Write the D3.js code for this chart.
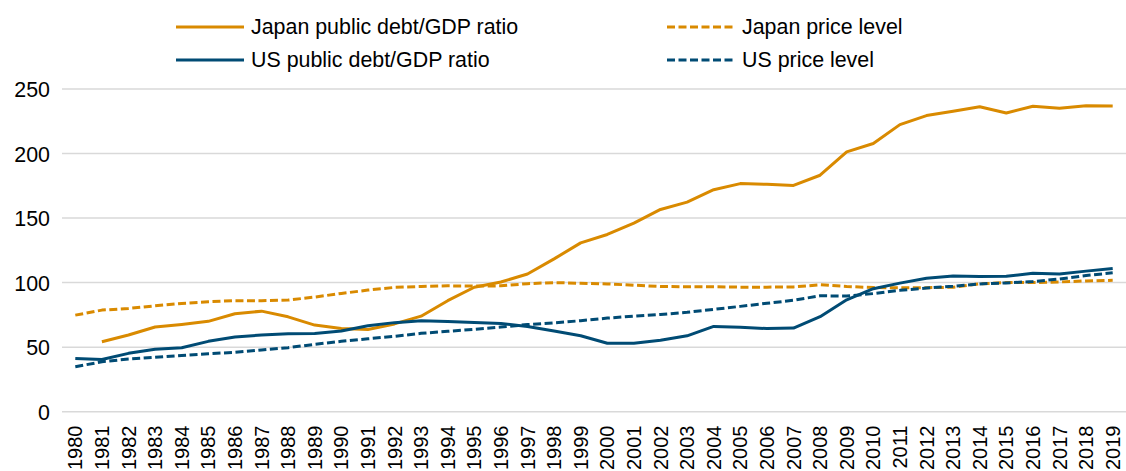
<!DOCTYPE html>
<html>
<head>
<meta charset="utf-8">
<script src="https://cdn.jsdelivr.net/npm/d3@7"></script>
<style>
  html, body { margin: 0; padding: 0; background: #fff; }
  svg { display: block; }
  text { font-family: "Liberation Sans", Arial, sans-serif; fill: #000; }
</style>
</head>
<body>
<svg id="chart" width="1126" height="471"></svg>
<script>
const years = d3.range(1980, 2020);
const yTicks = [0, 50, 100, 150, 200, 250];

const japanDebt = [null, 54.2, 59.4, 65.6, 67.6, 70.0, 75.9, 77.9, 73.5, 67.1,
  64.5, 63.7, 68.0, 74.0, 86.0, 96.4, 100.5, 106.7, 118.4, 130.8,
  137.3, 146.1, 156.7, 162.4, 172.0, 176.7, 176.2, 175.3, 183.2, 201.3,
  207.8, 222.4, 229.4, 232.7, 236.3, 231.4, 236.6, 235.0, 237.1, 236.8];

const japanPrice = [74.8, 78.7, 80.0, 82.0, 83.9, 85.2, 86.0, 86.0, 86.5, 88.8,
  91.6, 94.2, 96.3, 97.0, 97.5, 97.3, 97.5, 99.2, 100.0, 99.5,
  99.0, 98.0, 97.0, 96.8, 96.8, 96.5, 96.5, 96.7, 98.3, 97.0,
  96.2, 96.0, 96.1, 96.4, 99.0, 100.0, 100.0, 100.5, 101.3, 101.8];

const usDebt = [41.3, 40.5, 45.2, 48.3, 49.6, 54.5, 57.8, 59.4, 60.4, 60.6,
  62.5, 66.6, 69.0, 70.4, 69.8, 69.1, 68.4, 66.0, 62.5, 58.8,
  53.0, 53.0, 55.4, 58.8, 66.1, 65.5, 64.4, 64.8, 73.6, 86.7,
  95.3, 99.6, 103.4, 105.1, 104.7, 104.9, 107.3, 106.6, 108.9, 111.0];

const usPrice = [34.8, 38.7, 40.8, 42.1, 43.6, 44.9, 46.0, 47.8, 49.6, 52.2,
  54.5, 56.5, 58.4, 60.7, 62.3, 63.8, 65.6, 67.5, 68.8, 70.5,
  72.5, 74.0, 75.3, 77.0, 79.3, 81.6, 84.0, 86.3, 89.8, 89.6,
  91.5, 94.0, 95.8, 97.2, 99.0, 99.8, 100.8, 102.8, 105.5, 107.6];

const seriesNames = ["Japan public debt/GDP ratio", "Japan price level",
                     "US public debt/GDP ratio", "US price level"];

const ORANGE = "#D98A00", BLUE = "#004B74";
const FONT = 21.4;
const XFONT = 20;

const series = [
  { name: seriesNames[0], values: japanDebt, color: ORANGE, dash: null },
  { name: seriesNames[1], values: japanPrice, color: ORANGE, dash: "8,3.5" },
  { name: seriesNames[2], values: usDebt, color: BLUE, dash: null },
  { name: seriesNames[3], values: usPrice, color: BLUE, dash: "8,3.5" }
];

const svg = d3.select("#chart");
svg.append("rect").attr("width", 1126).attr("height", 471).attr("fill", "#fff");

const plotLeft = 62, step = 26.6;
const x = d3.scaleBand().domain(years).range([plotLeft, plotLeft + step * years.length]).padding(0);
const xc = d => x(d) + x.bandwidth() / 2;
const y = d3.scaleLinear().domain([0, 250]).range([411.7, 89]);

// gridlines
svg.append("g").selectAll("line").data(yTicks).join("line")
  .attr("x1", plotLeft).attr("x2", 1126)
  .attr("y1", d => y(d)).attr("y2", d => y(d))
  .attr("stroke", "#D9D9D9").attr("stroke-width", 1.5);

// y axis labels
const yAxis = d3.axisLeft(y).tickValues(yTicks).tickSize(0).tickPadding(0);
const gy = svg.append("g").attr("transform", "translate(50,0)").call(yAxis);
gy.select(".domain").remove();
gy.selectAll("text").attr("font-size", FONT).attr("font-family", "Liberation Sans, Arial, sans-serif")
  .attr("fill", "#000").attr("dy", "0.35em");

// x axis labels
const xAxis = d3.axisBottom(x).tickSize(0).tickPadding(0);
const gx = svg.append("g").attr("transform", "translate(0,425.5)").call(xAxis);
gx.select(".domain").remove();
gx.selectAll("text")
  .attr("font-size", XFONT).attr("font-family", "Liberation Sans, Arial, sans-serif").attr("fill", "#000")
  .attr("transform", "rotate(-90)")
  .attr("text-anchor", "end")
  .attr("x", 0).attr("y", 0).attr("dx", 0).attr("dy", "0.35em");

// lines
const line = d3.line()
  .defined(d => d.v != null)
  .x(d => xc(d.year))
  .y(d => y(d.v));

const drawOrder = [1, 3, 0, 2];
drawOrder.forEach(i => {
  const s = series[i];
  const data = years.map((yr, k) => ({ year: yr, v: s.values[k] }));
  svg.append("path").datum(data)
    .attr("d", line)
    .attr("fill", "none")
    .attr("stroke", s.color)
    .attr("stroke-width", 3)
    .attr("stroke-linejoin", "round")
    .attr("stroke-dasharray", s.dash);
});

// legend
const legendItems = [
  { s: series[0], x: 176, y: 27 },
  { s: series[2], x: 176, y: 60 },
  { s: series[1], x: 667, y: 27 },
  { s: series[3], x: 667, y: 60 }
];
const lg = svg.append("g");
legendItems.forEach(it => {
  lg.append("line")
    .attr("x1", it.x).attr("x2", it.x + 68)
    .attr("y1", it.y).attr("y2", it.y)
    .attr("stroke", it.s.color).attr("stroke-width", 3)
    .attr("stroke-dasharray", it.s.dash);
  lg.append("text")
    .attr("x", it.x + 75).attr("y", it.y).attr("dy", "0.35em")
    .attr("font-size", FONT)
    .text(it.s.name);
});
</script>
</body>
</html>
